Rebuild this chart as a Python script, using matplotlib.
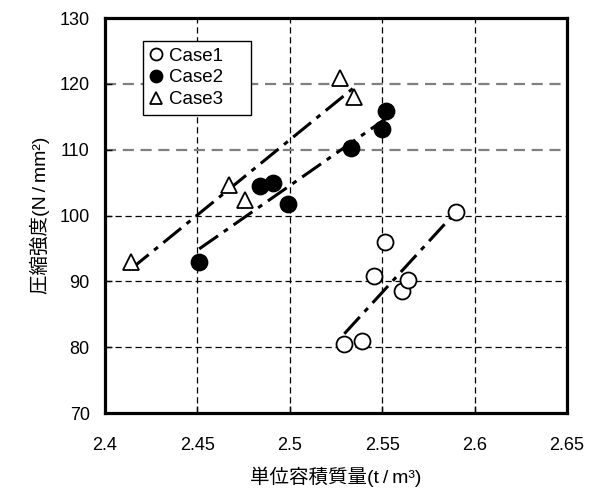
import numpy as np
import matplotlib
matplotlib.use('Agg')
import matplotlib.pyplot as plt

plt.rcParams['font.family'] = ['Liberation Sans', 'Noto Sans CJK JP', 'DejaVu Sans']

# Case1 (open circles)
case1_x = [2.5295, 2.539, 2.5457, 2.5515, 2.5607, 2.5638, 2.590]
case1_y = [80.5, 81.0, 90.8, 96.0, 88.5, 90.2, 100.5]
# Case2 (filled circles)
case2_x = [2.451, 2.484, 2.491, 2.499, 2.533, 2.550, 2.552]
case2_y = [93.0, 104.5, 105.0, 101.8, 110.2, 113.2, 115.8]
# Case3 (open triangles)
case3_x = [2.414, 2.467, 2.476, 2.527, 2.535]
case3_y = [93.0, 104.7, 102.4, 120.9, 118.0]

x_ticks = [2.4, 2.45, 2.5, 2.55, 2.6, 2.65]
y_ticks = [70, 80, 90, 100, 110, 120, 130]

fig = plt.figure(figsize=(5.94, 4.98), dpi=100)
ax = fig.add_axes([105/594, 85/498, 462/594, 395/498])

trend_style = (0, (7.5, 2.3, 1.6, 2.3))
for xs, ys in [(case1_x, case1_y), (case2_x, case2_y), (case3_x, case3_y)]:
    k, b = np.polyfit(xs, ys, 1)
    lx = np.array([min(xs), max(xs)])
    ax.plot(lx, k * lx + b, color='black', lw=2.2, linestyle=trend_style,
            solid_capstyle='butt', dash_capstyle='butt', zorder=2)

ax.plot(case1_x, case1_y, 'o', ms=11.5, mfc='white', mec='black', mew=1.3,
        linestyle='none', label='Case1    ', zorder=3)
ax.plot(case2_x, case2_y, 'o', ms=11.5, mfc='black', mec='black', mew=1.3,
        linestyle='none', label='Case2    ', zorder=3)
ax.plot(case3_x, case3_y, '^', ms=12, mfc='white', mec='black', mew=1.3,
        linestyle='none', label='Case3    ', zorder=3)

ax.set_xlim(2.4, 2.65)
ax.set_ylim(70, 130)
ax.set_xticks(x_ticks)
ax.set_yticks(y_ticks)
ax.set_xticklabels(['2.4', '2.45', '2.5', '2.55', '2.6', '2.65'])

ax.tick_params(axis='both', direction='in', length=5, width=1, labelsize=13)
ax.tick_params(axis='x', pad=17)
ax.tick_params(axis='y', pad=11)

ax.grid(True, linestyle=(0, (5, 3)), color='black', lw=0.9)
for gl, v in zip(ax.get_ygridlines(), y_ticks):
    if v in (110, 120):
        gl.set_color('#808080')
        gl.set_linewidth(1.6)
for gl in ax.get_xgridlines() + ax.get_ygridlines():
    gl.set_zorder(1)
ax.set_axisbelow(True)

for sp in ax.spines.values():
    sp.set_linewidth(2.3)

ax.set_xlabel('単位容積質量(t\u2009/\u2009m³)', fontsize=14, labelpad=9)
ax.set_ylabel('圧縮強度(N\u2009/\u2009mm²)', fontsize=14, labelpad=7)

leg = ax.legend(loc='upper left', bbox_to_anchor=(0.082, 0.942), borderaxespad=0,
                fontsize=13.5, frameon=True, fancybox=False, handlelength=0.7,
                handletextpad=0.35, labelspacing=0.25, markerscale=0.75,
                borderpad=0.35)
leg.get_frame().set_edgecolor('black')
leg.get_frame().set_linewidth(1.0)
leg.get_frame().set_alpha(1)

fig.savefig('out.png', dpi=100)
